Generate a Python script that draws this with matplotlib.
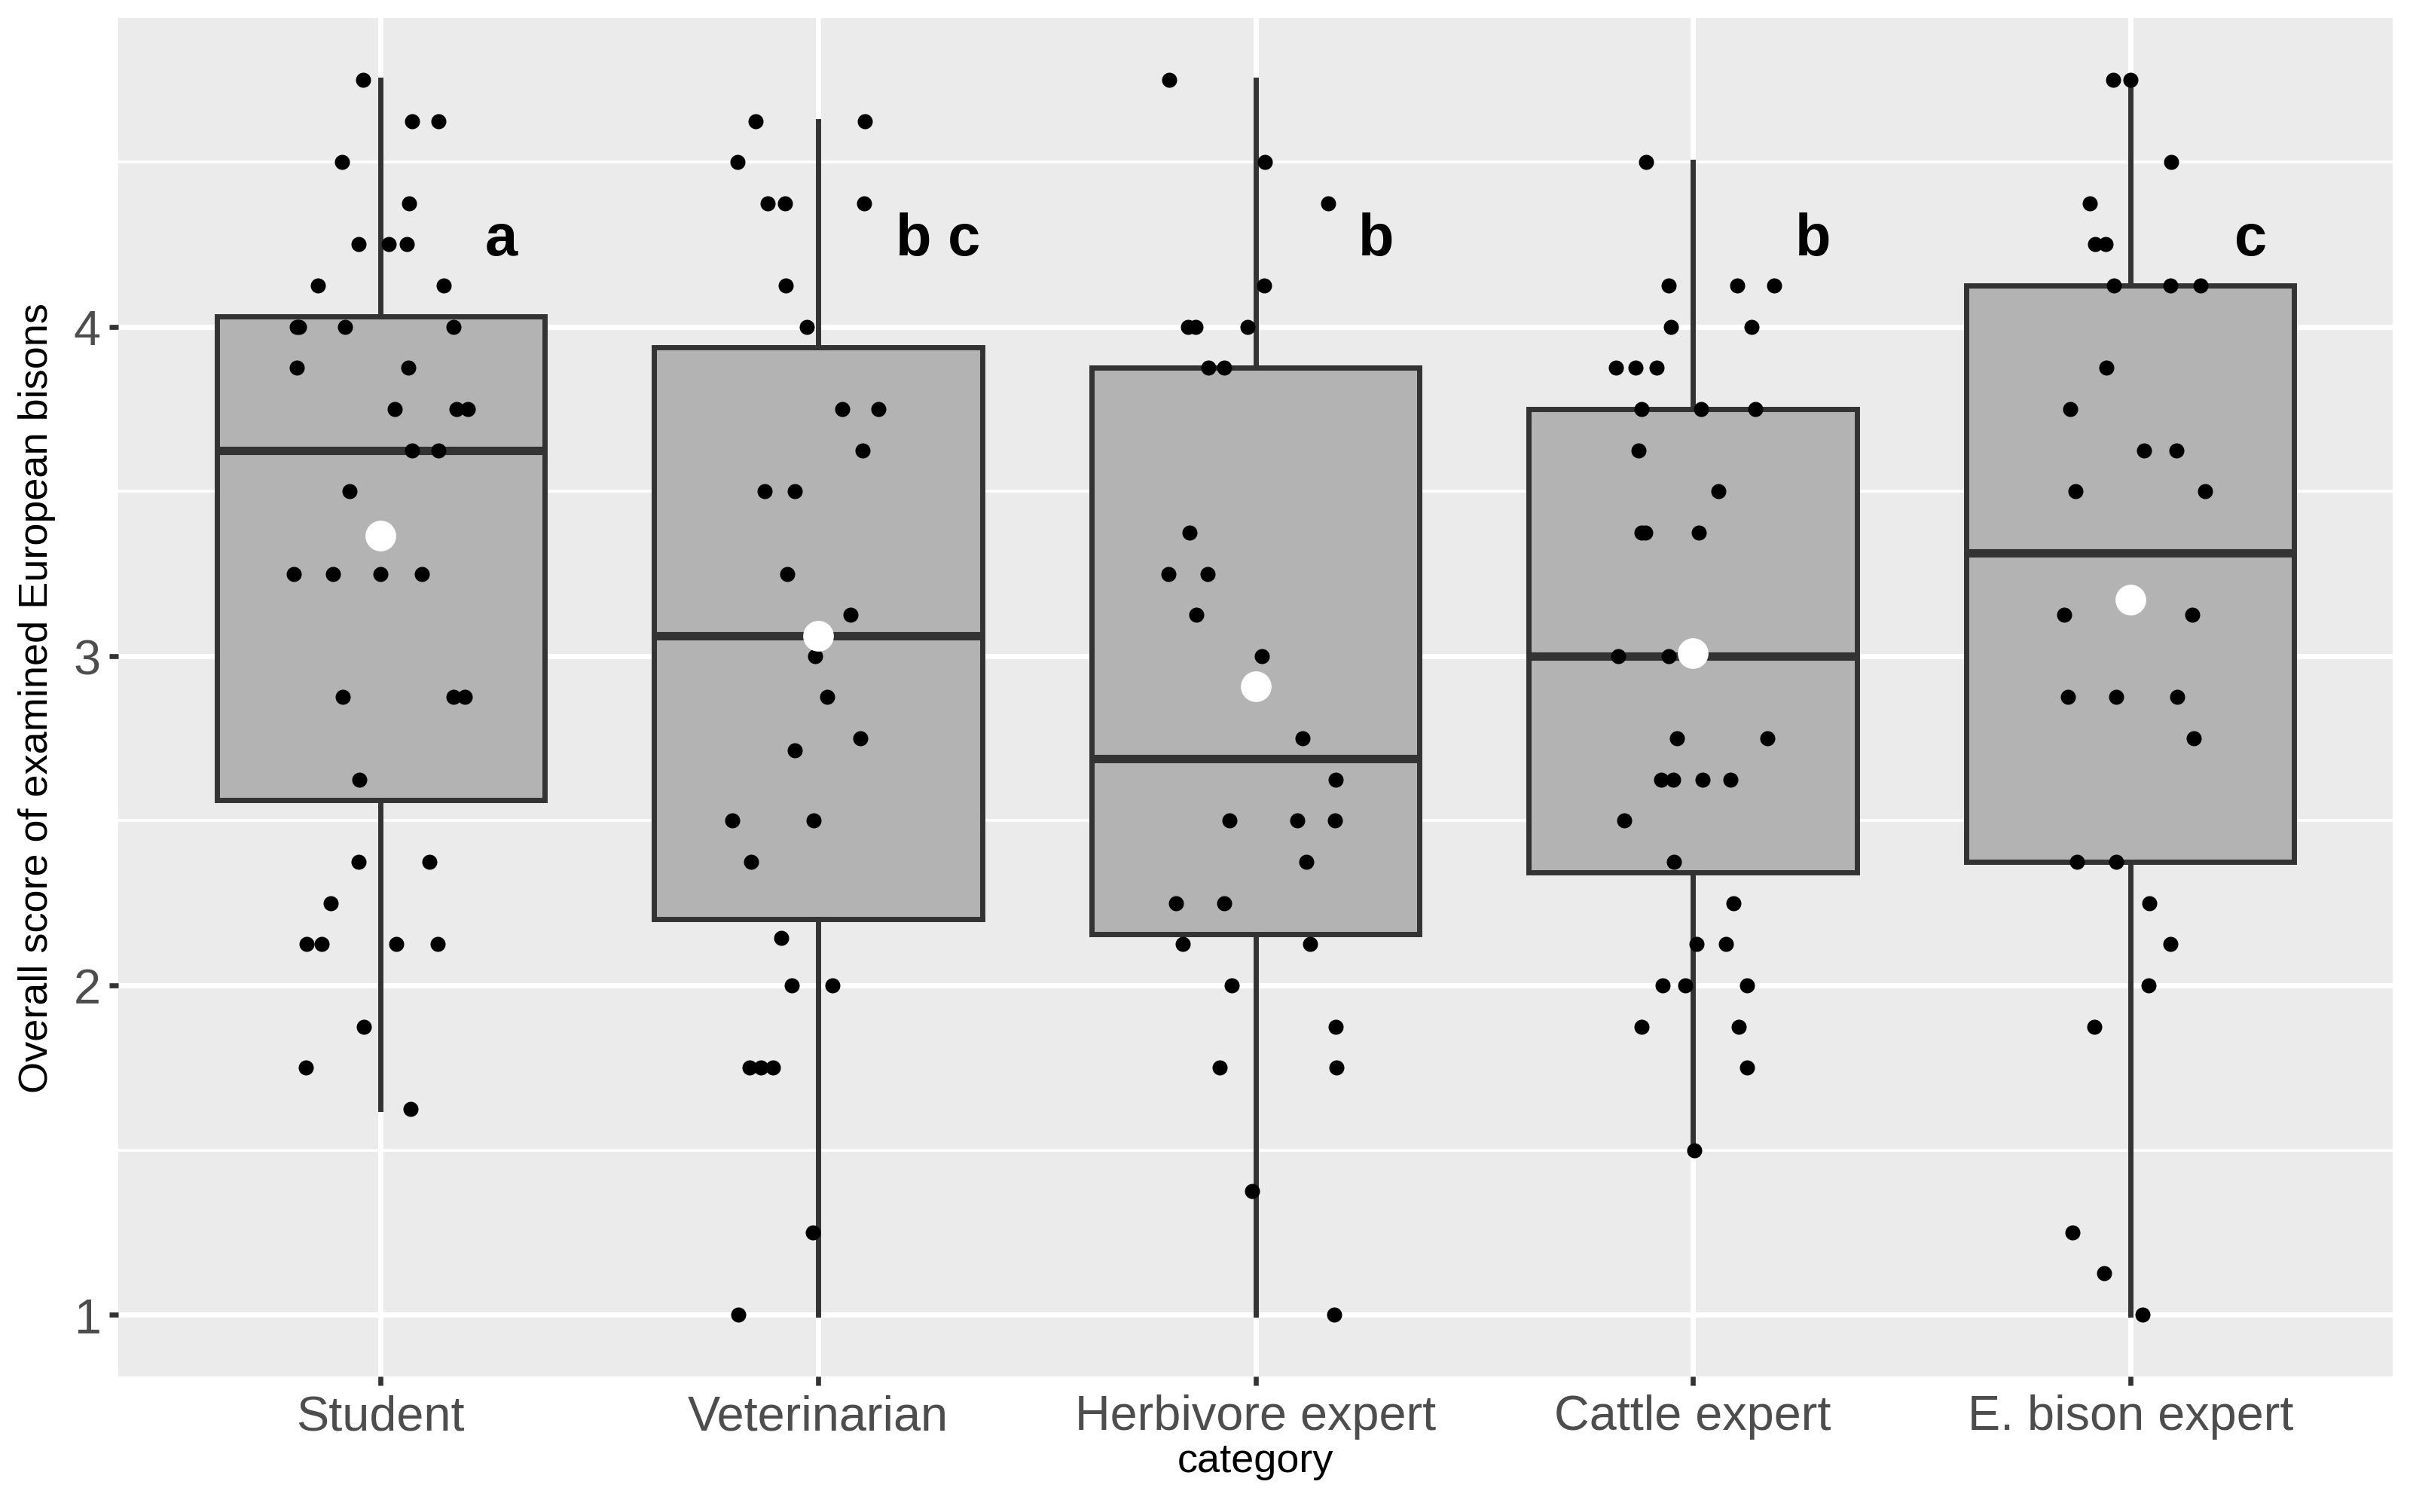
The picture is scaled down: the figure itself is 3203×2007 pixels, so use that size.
''' Boxplot with jittered points: scores of examined European bisons by category '''
import numpy as np
import matplotlib
matplotlib.use('Agg')
import matplotlib.pyplot as plt

plt.rcParams['font.family'] = ['Liberation Sans', 'DejaVu Sans']

# data
categories = ['Student', 'Veterinarian', 'Herbivore expert', 'Cattle expert', 'E. bison expert']
letters = ['a', 'b c', 'b', 'b', 'c']

student = [4.75, 4.625, 4.625, 4.5, 4.375, 4.25, 4.25, 4.25, 4.125, 4.125,
           4.0, 4.0, 4.0, 4.0, 3.875, 3.875, 3.75, 3.75, 3.75, 3.625, 3.625,
           3.5, 3.25, 3.25, 3.25, 3.25, 2.875, 2.875, 2.875, 2.625, 2.375,
           2.375, 2.25, 2.125, 2.125, 2.125, 2.125, 1.875, 1.75, 1.625]
student_jit = [-0.041, 0.072, 0.132, -0.089, 0.065, -0.051, 0.019, 0.060, -0.144, 0.144,
               -0.192, -0.186, -0.082, 0.167, -0.192, 0.064, 0.032, 0.173, 0.199, 0.072, 0.132,
               -0.072, -0.199, -0.109, -0.001, 0.094, -0.086, 0.166, 0.193, -0.049, -0.051,
               0.111, -0.115, -0.170, -0.135, 0.035, 0.131, -0.039, -0.171, 0.068]

vet = [4.625, 4.625, 4.5, 4.375, 4.375, 4.375, 4.125, 4.0, 3.75, 3.75,
       3.625, 3.5, 3.5, 3.25, 3.125, 3.0, 2.875, 2.75, 2.714, 2.5,
       2.5, 2.375, 2.143, 2.0, 2.0, 1.75, 1.75, 1.75, 1.25, 1.0]
vet_jit = [-0.142, 0.107, -0.185, -0.115, -0.075, 0.106, -0.074, -0.026, 0.056, 0.138,
           0.101, -0.123, -0.054, -0.070, 0.074, -0.007, 0.020, 0.097, -0.053, -0.197,
           -0.010, -0.153, -0.085, -0.060, 0.033, -0.157, -0.131, -0.104, -0.012, -0.183]

herb = [4.75, 4.5, 4.375, 4.125, 4.0, 4.0, 4.0, 3.875, 3.875, 3.375,
        3.25, 3.25, 3.125, 3.0, 2.75, 2.625, 2.5, 2.5, 2.5, 2.375,
        2.25, 2.25, 2.125, 2.125, 2.0, 1.875, 1.75, 1.75, 1.375, 1.0]
herb_jit = [-0.197, 0.022, 0.167, 0.020, -0.154, -0.137, -0.018, -0.108, -0.072, -0.151,
            -0.199, -0.109, -0.136, 0.014, 0.108, 0.183, -0.059, 0.096, 0.182, 0.117,
            -0.181, -0.072, -0.167, 0.125, -0.054, 0.184, -0.082, 0.185, -0.007, 0.180]

cattle = [4.5, 4.125, 4.125, 4.125, 4.0, 4.0, 3.875, 3.875, 3.875, 3.75,
          3.75, 3.75, 3.625, 3.5, 3.375, 3.375, 3.0, 3.0, 3.0, 3.0,
          3.0, 2.75, 2.75, 2.625, 2.625, 2.625, 2.625, 2.5, 2.375, 2.25,
          2.125, 2.125, 2.0, 2.0, 2.0, 1.875, 1.875, 1.75, 1.5, 3.375]
cattle_jit = [-0.107, -0.055, 0.101, 0.186, -0.051, 0.134, -0.176, -0.131, -0.083, -0.117,
              0.018, 0.142, -0.124, 0.059, -0.118, -0.108, -0.170, -0.056, 0.0, 0.004,
              -0.004, -0.037, 0.170, -0.073, -0.045, 0.022, 0.086, -0.157, -0.044, 0.093,
              0.009, 0.075, -0.069, -0.017, 0.123, -0.118, 0.104, 0.123, 0.003, 0.013]

bison = [4.75, 4.75, 4.5, 4.375, 4.25, 4.25, 4.125, 4.125, 4.125, 3.875,
         3.75, 3.625, 3.625, 3.5, 3.5, 3.125, 3.125, 2.875, 2.875, 2.875,
         2.75, 2.375, 2.375, 2.25, 2.125, 2.0, 1.875, 1.25, 1.125, 1.0]
bison_jit = [-0.039, 0.001, 0.094, -0.092, -0.080, -0.057, -0.038, 0.092, 0.160, -0.054,
             -0.138, 0.032, 0.105, -0.125, 0.171, -0.151, 0.141, -0.143, -0.033, 0.107,
             0.145, -0.122, -0.033, 0.044, 0.092, 0.041, -0.083, -0.133, -0.060, 0.028]

scores = [student, vet, herb, cattle, bison]
jitters = [student_jit, vet_jit, herb_jit, cattle_jit, bison_jit]

positions = np.arange(1, len(categories) + 1)

fig = plt.figure(figsize=(16.015, 10.04), dpi=200)
ax = fig.add_axes([0.0490, 0.0896, 0.9426, 0.8980])
ax.set_facecolor('#EBEBEB')
for s in ax.spines.values():
    s.set_visible(False)

# boxes
ax.boxplot(scores, positions=positions, widths=0.75, patch_artist=True,
           showcaps=False, showfliers=False, whis=1.5,
           boxprops=dict(facecolor='#B3B3B3', edgecolor='#333333', linewidth=2.5),
           medianprops=dict(color='#333333', linewidth=4),
           whiskerprops=dict(color='#333333', linewidth=2.5),
           zorder=2)

# jittered points
for pos, vals, jit in zip(positions, scores, jitters):
    ax.scatter(pos + np.array(jit), vals, s=52, color='black', linewidths=0, zorder=3)

# means
means = [np.mean(v) for v in scores]
ax.scatter(positions, means, s=215, color='white', linewidths=0, zorder=4)

# significance letters
for pos, lab in zip(positions, letters):
    ax.text(pos + 0.275, 4.22, lab, fontsize=28, fontweight='bold',
            ha='center', va='baseline', zorder=5)

# grid and ticks (after boxplot, which resets the x ticks)
ax.set_axisbelow(True)
ax.set_yticks([1, 2, 3, 4])
ax.set_yticks([1.5, 2.5, 3.5, 4.5], minor=True)
ax.set_xticks(positions)
ax.set_xticklabels(categories)
ax.grid(which='major', color='white', linewidth=2.5)
ax.grid(which='minor', axis='y', color='white', linewidth=1.3)
ax.tick_params(which='major', length=4.3, width=2.4, color='#333333',
               labelcolor='#4D4D4D', labelsize=23.3, pad=4)
ax.tick_params(which='minor', length=0)

ax.set_xlim(0.4, 5.6)
ax.set_ylim(0.8125, 4.9375)

fig.text(0.5203, 0.0339, 'category', fontsize=19.5, ha='center', va='center')
fig.text(0.0153, 0.5385, 'Overall score of examined European bisons', fontsize=19.5,
         rotation=90, ha='center', va='center')

fig.savefig('out.png', dpi=200)
